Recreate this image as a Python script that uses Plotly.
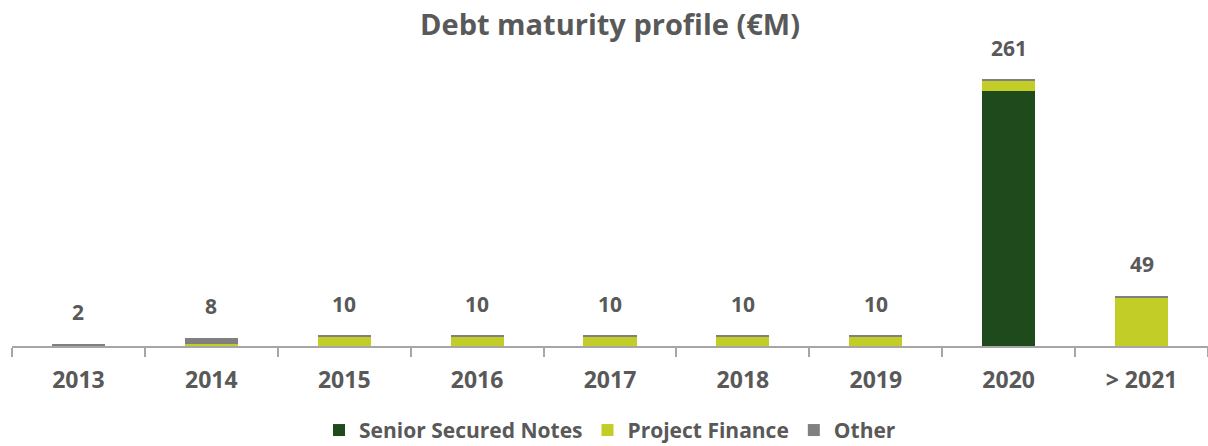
import plotly.graph_objects as go

categories = ["2013", "2014", "2015", "2016", "2017", "2018", "2019", "2020", "> 2021"]
senior_secured = [0, 0, 0, 0, 0, 0, 0, 250, 0]
project_finance = [0, 2, 9, 9, 9, 9, 9, 10, 48]
other = [2, 6, 1, 1, 1, 1, 1, 1, 1]
totals = [2, 8, 10, 10, 10, 10, 10, 261, 49]

FONT = "Open Sans"
GRAY = "#595959"

fig = go.Figure()
fig.add_trace(go.Bar(name="Senior Secured Notes", x=categories, y=senior_secured,
                     marker=dict(color="#1e4a1c", line=dict(width=0))))
fig.add_trace(go.Bar(name="Project Finance", x=categories, y=project_finance,
                     marker=dict(color="#c2cd28", line=dict(width=0))))
fig.add_trace(go.Bar(name="Other", x=categories, y=other,
                     marker=dict(color="#808080", line=dict(width=0))))

# total labels (category index positions on the category axis)
for i, t in enumerate(totals):
    fig.add_annotation(x=i, y=t, xref="x", yref="y", text=f"<b>{t}</b>", showarrow=False,
                       yanchor="bottom", yshift=16,
                       font=dict(family=FONT, size=21, color=GRAY))

fig.update_layout(
    barmode="stack",
    bargap=0.6,
    width=1208, height=446,
    margin=dict(l=12, r=0, t=45, b=100),
    paper_bgcolor="white", plot_bgcolor="white",
    title=dict(text="<b>Debt maturity profile (€M)</b>", x=0.505, xanchor="center",
               y=0.945, yanchor="middle",
               font=dict(family=FONT, size=29, color=GRAY)),
    legend=dict(orientation="h", x=0.5, xanchor="center",
                yref="container", y=0.035, yanchor="middle",
                font=dict(family=FONT, size=21, color=GRAY, weight="bold"),
                itemsizing="constant", traceorder="normal"),
    showlegend=True,
)
fig.update_xaxes(type="category", categoryorder="array", categoryarray=categories,
                 range=[-0.5, len(categories) - 0.5], automargin=False,
                 showline=True, linecolor="#a6a6a6", linewidth=2,
                 ticks="outside", tickson="boundaries", ticklen=9,
                 tickcolor="#a6a6a6", tickwidth=2, tickangle=0,
                 ticklabelstandoff=12,
                 tickfont=dict(family=FONT, size=23, color=GRAY, weight="bold"),
                 showgrid=False)
fig.update_yaxes(visible=False, range=[0, 295], showgrid=False, automargin=False)

fig.write_html("out.html", config={"displayModeBar": False},
               post_script="document.body.style.margin='0';")
